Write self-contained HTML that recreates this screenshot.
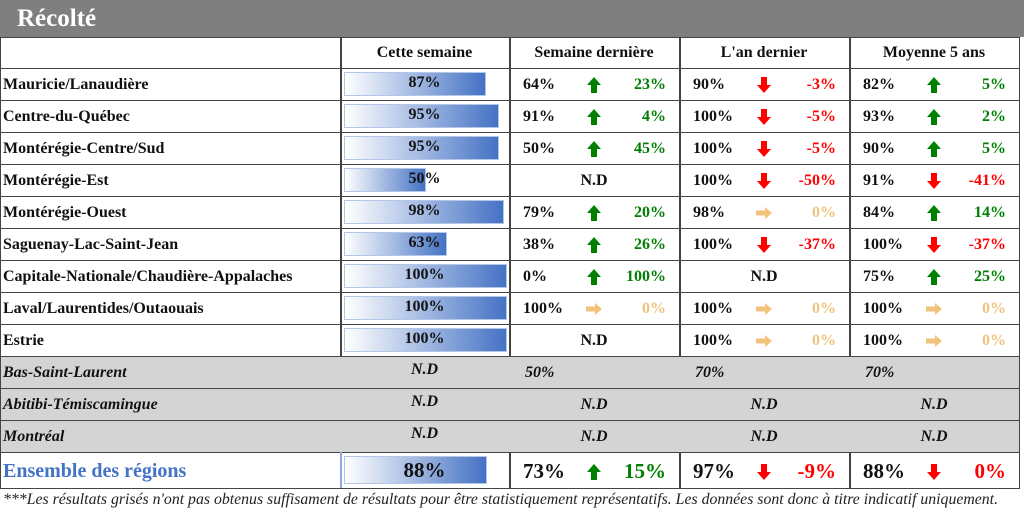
<!DOCTYPE html>
<html><head><meta charset="utf-8">
<style>
html,body{margin:0;padding:0;background:#fff;}
#root{position:relative;width:1024px;height:513px;overflow:hidden;font-family:"Liberation Serif",serif;font-weight:bold;font-size:16px;color:#111;}
.abs{position:absolute;box-sizing:border-box;}
.t{position:absolute;white-space:nowrap;line-height:1;}
</style></head><body>
<div id="root">
<div class="abs" style="left:0;top:0;width:1024px;height:37px;background:#7f7f7f;"></div>
<div class="t" style="left:17px;top:6px;font-size:25px;color:#fff;">Récolté</div>
<div class="t" style="left:3px;top:492px;font-size:15.8px;font-weight:normal;font-style:italic;color:#222;">***Les résultats grisés n'ont pas obtenus suffisament de résultats pour être statistiquement représentatifs. Les données sont donc à titre indicatif uniquement.</div>
</div>
<script>
const regions=["Mauricie/Lanaudière","Centre-du-Québec","Montérégie-Centre/Sud","Montérégie-Est","Montérégie-Ouest","Saguenay-Lac-Saint-Jean","Capitale-Nationale/Chaudière-Appalaches","Laval/Laurentides/Outaouais","Estrie","Bas-Saint-Laurent","Abitibi-Témiscamingue","Montréal","Ensemble des régions"];
const thisWeek=[87,95,95,50,98,63,100,100,100,null,null,null,88];
const lastWeek=[64,91,50,null,79,38,0,100,null,50,null,null,73];
const lastWeekDiff=[23,4,45,null,20,26,100,0,null,null,null,null,15];
const lastYear=[90,100,100,100,98,100,null,100,100,70,null,null,97];
const lastYearDiff=[-3,-5,-5,-50,0,-37,null,0,0,null,null,null,-9];
const avg5=[82,93,90,91,84,100,75,100,100,70,null,null,88];
const avg5Diff=[5,2,5,-41,14,-37,25,0,0,null,null,null,-0.3];
const grayed=[false,false,false,false,false,false,false,false,false,true,true,true,false];
const headers=["Cette semaine","Semaine dernière","L'an dernier","Moyenne 5 ans"];

const root=document.getElementById('root');
const C=[0,340,509,679,849,1019];
const rowTop=i=>i<12?68+32*i:452;
const rowH=i=>i<12?32:36;
function box(x,y,w,h,st){const d=document.createElement('div');d.className='abs';d.style.cssText=`left:${x}px;top:${y}px;width:${w}px;height:${h}px;`+(st||'');root.appendChild(d);return d;}
function txt(s,x,y,st){const d=document.createElement('div');d.className='t';d.textContent=s;d.style.cssText=`left:${x}px;top:${y}px;`+(st||'');root.appendChild(d);return d;}
function arrow(dir,cx,cy){
  const ns='http://www.w3.org/2000/svg';const s=document.createElementNS(ns,'svg');
  s.setAttribute('width','18');s.setAttribute('height','18');
  s.style.cssText=`position:absolute;left:${cx-9}px;top:${cy-9}px;`;
  const p=document.createElementNS(ns,'polygon');
  let pts,col;
  if(dir>0){pts='9,1 16,9 12,9 12,17 6,17 6,9 2,9';col='#008000';}
  else if(dir<0){pts='9,17 16,9 12,9 12,1 6,1 6,9 2,9';col='#ff0000';}
  else{pts='17,9 10,3 10,6.5 1,6.5 1,11.5 10,11.5 10,15';col='#f2c37d';}
  p.setAttribute('points',pts);p.setAttribute('fill',col);s.appendChild(p);root.appendChild(s);return s;}

box(0,37,1020,32,'border:1.5px solid #444;');
headers.forEach((h,k)=>{
  const d=txt(h,C[k+1],45,`width:${C[k+2]-C[k+1]}px;text-align:center;`);
  
  
});
for(let k=1;k<5;k++){const l=box(C[k],37,1.5,451,'background:#444;');}

regions.forEach((r,i)=>{
  const y=rowTop(i),h=rowH(i),last=i===12;
  const rb=box(0,y,1020,h+1,'border:1.5px solid #444;'+(grayed[i]?'background:#d4d4d4;':''));
  
  
  const fs=last?21:16;
  const ty=y+(h-fs)/2+1;
  const lab=txt(r,3,last?y+9:ty,`font-size:${last?20:16}px;`+(grayed[i]?'font-style:italic;':'')+(last?'color:#4472c4;':''));
  
  
  if(thisWeek[i]!=null){
    const bw=163*thisWeek[i]/100;
    const b=box(344,y+4,bw,h-8,'background:linear-gradient(to right,#ffffff,#4472c4);border:1px solid #b4c6e7;');
    
    
    const v=txt(thisWeek[i]+'%',340,last?y+8:y+7,`width:169px;text-align:center;font-size:${fs}px;`);
    
    
  } else {
    const v=txt('N.D',340,y+6,'width:169px;text-align:center;font-style:italic;');
    
    
  }
  if(last){const lb=box(340,y,2,h,'background:#8eaadb;');}
  const comps=[[lastWeek,lastWeekDiff],[lastYear,lastYearDiff],[avg5,avg5Diff]];
  comps.forEach(([vals,diffs],k)=>{
    const x0=C[k+2],w=C[k+3]-x0;
    if(vals[i]==null){
      const v=txt('N.D',x0,grayed[i]?y+9:ty,`width:${w}px;text-align:center;`+(grayed[i]?'font-style:italic;':''));
      
      
      return;
    }
    const v=txt(vals[i]+'%',x0+(grayed[i]?16:14),grayed[i]?y+9:ty,`font-size:${fs}px;`+(grayed[i]?'font-style:italic;':''));
    
    
    if(diffs[i]==null) return;
    const dv=diffs[i];
    const col=dv>0?'#008000':(dv<0?'#ff0000':'#f2c37d');
    const a=arrow(dv>0?1:(dv<0?-1:0),x0+85,y+h/2+(last?2:1));
    
    
    const dt=txt(Math.round(dv)+'%',x0,ty,`width:${w-13}px;text-align:right;color:${col};font-size:${fs}px;`);
    
    
  });
});
</script>
</body></html>
